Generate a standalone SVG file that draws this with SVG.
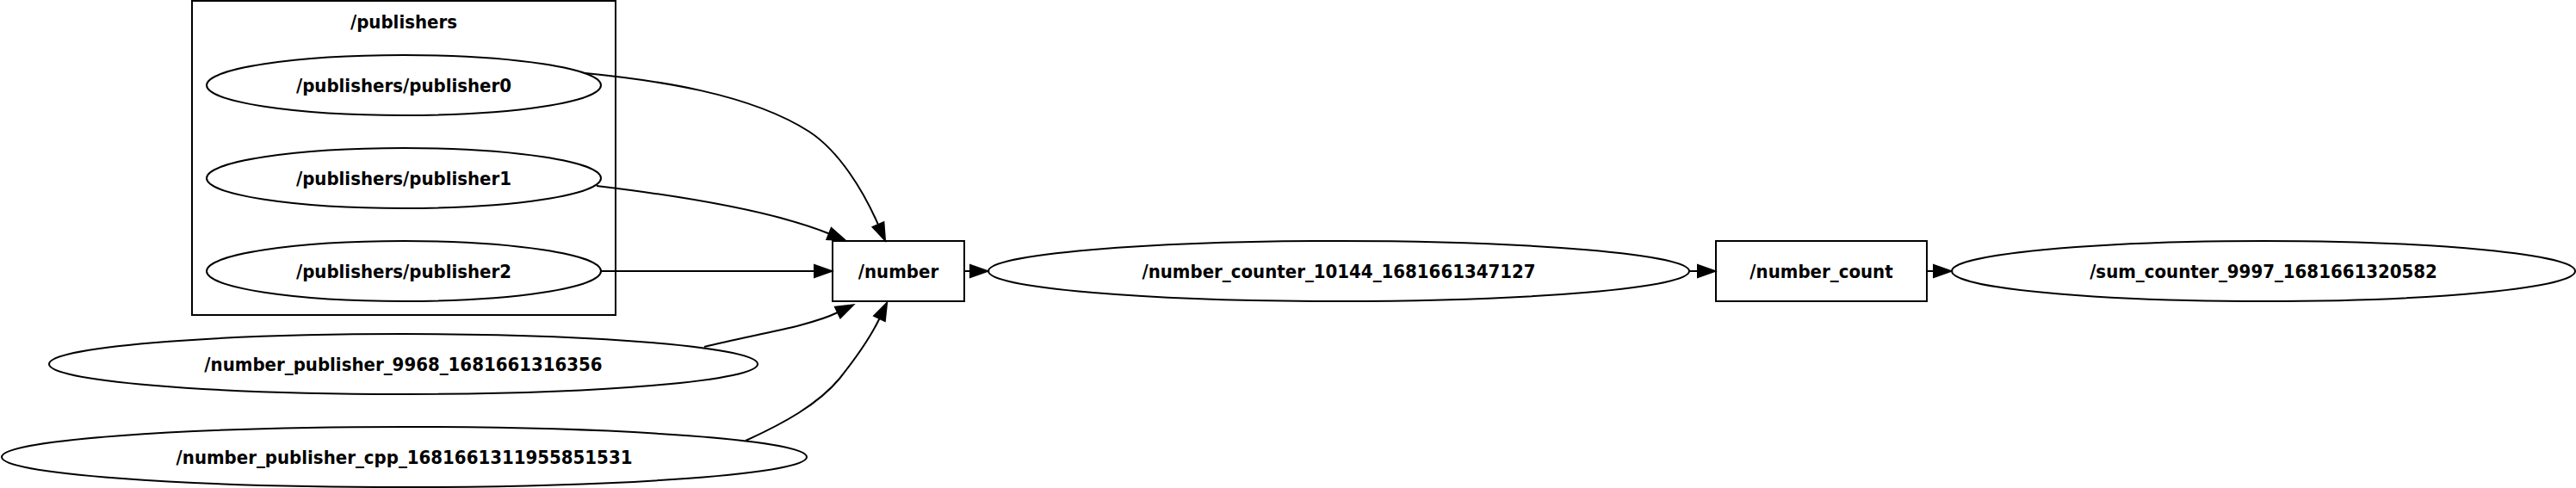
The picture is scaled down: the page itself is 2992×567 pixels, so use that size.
<svg xmlns="http://www.w3.org/2000/svg" width="2992" height="567" viewBox="0 0 2992 567">
<style>
  .bg { fill: #ffffff; }
  .node ellipse, .node rect, .cluster rect { fill: none; stroke: #000000; stroke-width: 2; }
  text { font-family: "DejaVu Sans Condensed", "DejaVu Sans", "Liberation Sans", sans-serif; font-stretch: condensed; font-weight: bold; font-size: 22px; fill: #000000; text-anchor: middle; }
  .edges path { fill: none; stroke: #000000; stroke-width: 2; marker-end: url(#arrow); }
</style>
<defs>
  <marker id="arrow" markerUnits="userSpaceOnUse" viewBox="0 0 20 14" markerWidth="20" markerHeight="14" refX="0" refY="7" orient="auto" overflow="visible">
    <path d="M0,0 L20,7 L0,14 Z" fill="#000000" stroke="#000000" stroke-width="2"/>
  </marker>
</defs>
<rect class="bg" x="0" y="0" width="2992" height="567"/>

<g id="cluster_publishers" class="cluster">
  <rect x="223" y="1" width="492" height="365"/>
  <text x="469" y="33">/publishers</text>
</g>

<g id="n_publisher0" class="node">
  <ellipse cx="469" cy="99" rx="229" ry="35"/>
  <text x="469" y="107">/publishers/publisher0</text>
</g>
<g id="n_publisher1" class="node">
  <ellipse cx="469" cy="207" rx="229" ry="35"/>
  <text x="469" y="215">/publishers/publisher1</text>
</g>
<g id="n_publisher2" class="node">
  <ellipse cx="469" cy="315" rx="229" ry="35"/>
  <text x="469" y="323">/publishers/publisher2</text>
</g>
<g id="n_number_publisher_9968" class="node">
  <ellipse cx="468.5" cy="423" rx="411.5" ry="35"/>
  <text x="468.5" y="431">/number_publisher_9968_1681661316356</text>
</g>
<g id="n_number_publisher_cpp" class="node">
  <ellipse cx="469.5" cy="531" rx="467.5" ry="35"/>
  <text x="469.5" y="539">/number_publisher_cpp_1681661311955851531</text>
</g>
<g id="t_number" class="node">
  <rect x="967" y="280" width="153" height="70"/>
  <text x="1043.5" y="323">/number</text>
</g>
<g id="n_number_counter" class="node">
  <ellipse cx="1555" cy="315" rx="407" ry="35"/>
  <text x="1555" y="323">/number_counter_10144_1681661347127</text>
</g>
<g id="t_number_count" class="node">
  <rect x="1993" y="280" width="245" height="70"/>
  <text x="2115.5" y="323">/number_count</text>
</g>
<g id="n_sum_counter" class="node">
  <ellipse cx="2629" cy="315" rx="362" ry="35"/>
  <text x="2629" y="323">/sum_counter_9997_1681661320582</text>
</g>

<g id="edges" class="edges">
  <path d="M680,85 C760,93 870,108 940,153 C975,176 1003,222 1020,261"/>
  <path d="M693,216 C760,224 890,242 963,271.5"/>
  <path d="M698,315 L946,315"/>
  <path d="M818,403 C872,389 938,380 973,363"/>
  <path d="M866,512 C910,492 950,470 975,440 C995,415 1012,390 1021.5,370"/>
  <path d="M1120,315 L1127,315"/>
  <path d="M1962,315 L1972,315"/>
  <path d="M2238,315 L2246,315"/>
</g>
</svg>
